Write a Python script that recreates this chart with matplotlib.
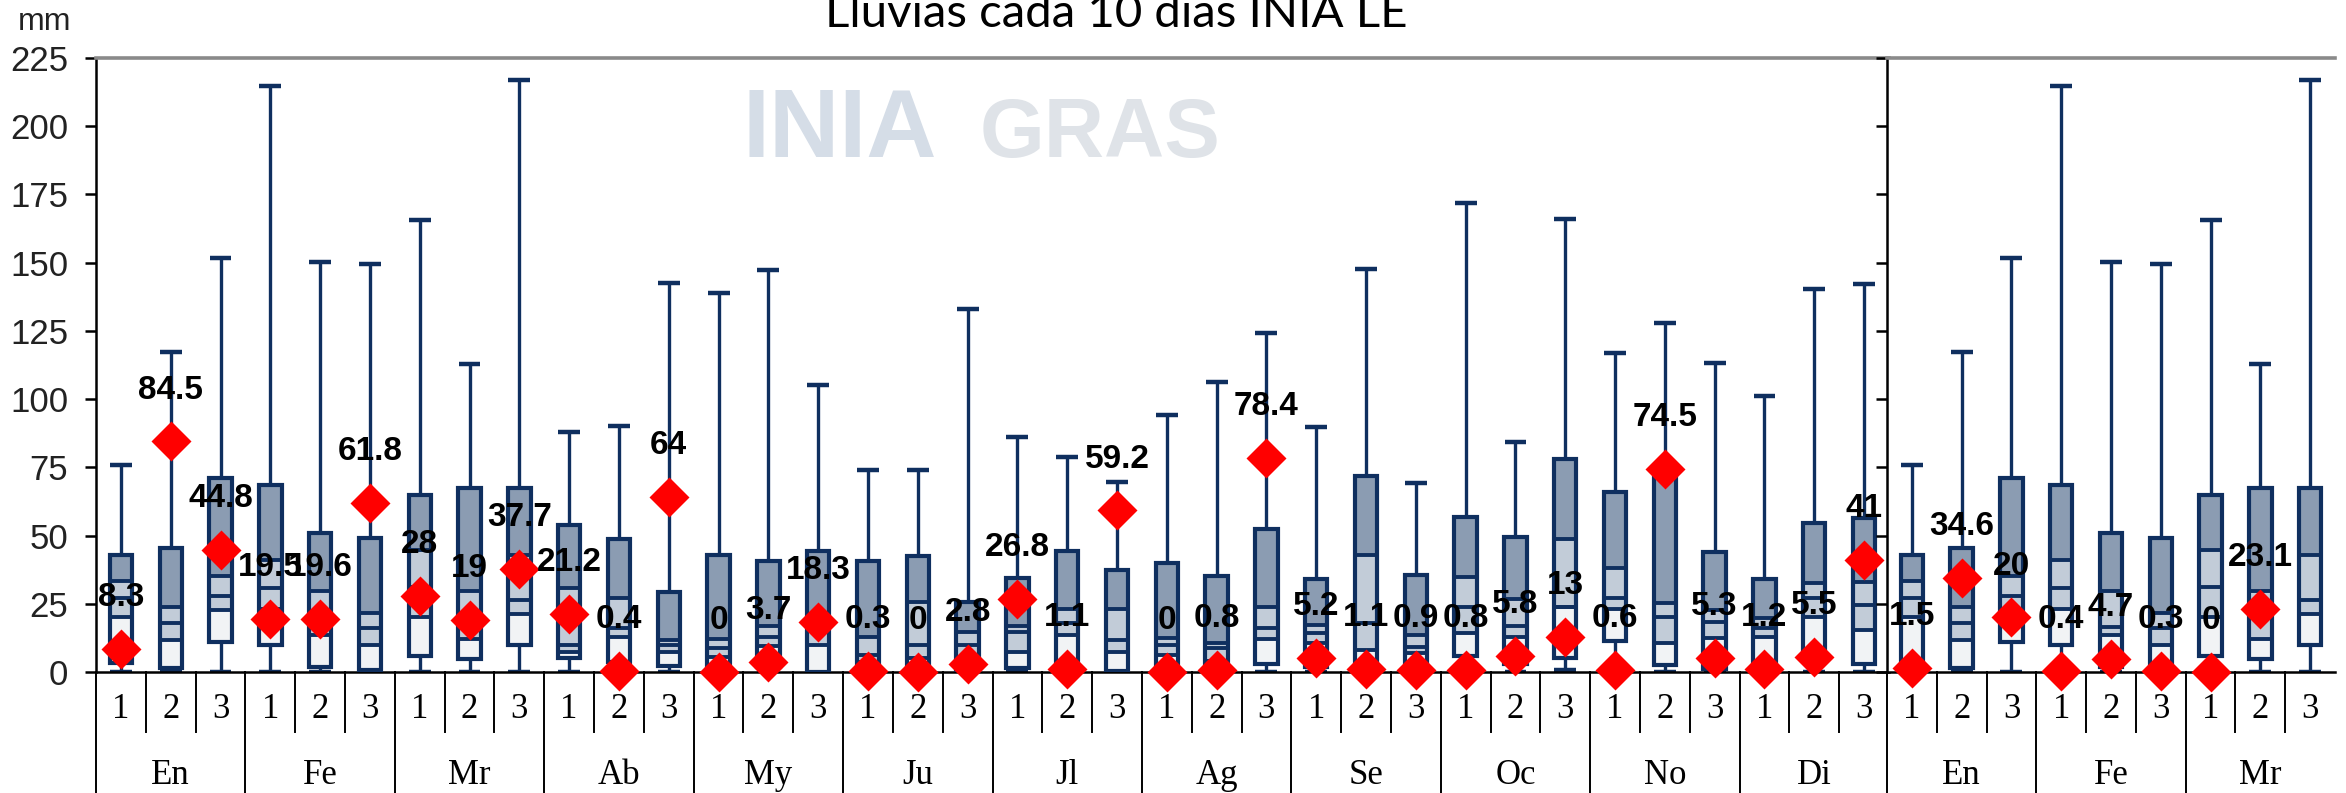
import numpy as np
import matplotlib
matplotlib.use('Agg')
import matplotlib.pyplot as plt
from matplotlib.transforms import blended_transform_factory

# Dekad climatology (mm) for En..Di
months = ['En', 'Fe', 'Mr', 'Ab', 'My', 'Ju', 'Jl', 'Ag', 'Se', 'Oc', 'No', 'Di']
months_next = ['En', 'Fe', 'Mr']
dekads = ['1', '2', '3']

whisk_min = [0, 0, 0, 0, 0, 0, 0, 0, 0, 0, 0, 0,
             0, 0, 0, 0, 0, 0, 0, 0, 0, 0, 0, 0,
             0, 0, 0, 0, 0, 0.7, 0, 0, 0, 0, 0, 0]
whisk_max = [76, 117.3, 151.7, 214.8, 150.3, 149.4, 165.7, 112.8, 216.9,
             87.8, 90, 142.6, 139, 147.2, 105.1, 74.2, 74.2, 133.2,
             86, 78.9, 69.7, 94.3, 106.1, 124.3, 89.8, 147.7, 69.3,
             172, 84.2, 166, 117, 128, 113.3, 101, 140.5, 142]
box_lo = [3.2, 1.5, 11, 9.8, 1.7, 0.7, 6, 4.7, 9.8,
          5, 3.8, 2.2, 0.2, 2, 0.1, 0.3, 0.1, 0.7,
          1.3, 0.8, 0.2, 0.1, 0.3, 2.8, 2, 0.7, 0.7,
          5.9, 3, 5, 11.5, 2.5, 1, 1.5, 6, 2.8]
line_a = [20, 11.7, 22.7, 23, 13.5, 9.9, 20, 12.2, 21.2,
          7.4, 13, 7.4, 5.6, 9.5, 9.9, 3.5, 5, 5,
          7.4, 13.6, 7.4, 6.2, 4, 12, 10.5, 8.1, 6.8,
          14.3, 13, 23.9, 23, 10.5, 12.3, 12.9, 20.3, 15.5]
line_m = [27, 17.8, 27.8, 30.7, 16.5, 16, 31, 20, 26.4,
          9.9, 16, 9.9, 8.7, 13, 15, 6.2, 9.9, 9.9,
          14.8, 17.8, 11.7, 9.9, 8.7, 16.3, 14.3, 17.8, 9.3,
          23.8, 17, 23.9, 27, 20.2, 18.2, 16, 27, 24.5]
line_b = [33.5, 24, 35, 41, 29.6, 21.5, 44.7, 29.6, 43,
          30.6, 27.3, 11.7, 12, 17, 20, 13, 25.6, 14.5,
          17, 23, 23.1, 12.3, 10.5, 23.7, 17.2, 43, 13.6,
          34.7, 26.8, 48.7, 38.2, 25.3, 22.7, 19.7, 32.5, 33]
box_hi = [42.8, 45.3, 71, 68.7, 51, 49, 65, 67.3, 67.3,
          54, 48.6, 29.4, 42.8, 40.5, 44.2, 40.6, 42.5, 25.8,
          34.5, 44.2, 37.5, 39.8, 35, 52.3, 34, 72, 35.4,
          56.8, 49.5, 78, 66, 72, 44, 34, 54.6, 56.5]

# Observed rain of the season (red diamonds)
obs_year = [8.3, 84.5, 44.8, 19.5, 19.6, 61.8, 28, 19, 37.7,
            21.2, 0.4, 64, 0, 3.7, 18.3, 0.3, 0, 2.8,
            26.8, 1.1, 59.2, 0, 0.8, 78.4, 5.2, 1.1, 0.9,
            0.8, 5.8, 13, 0.6, 74.5, 5.3, 1.2, 5.5, 41]
obs_next = [1.5, 34.6, 20, 0.4, 4.7, 0.3, 0, 23.1, None]

NAVY = '#0f2f5f'
DARK = '#8b9cb2'
LIGHT = '#c2ccd8'
PALE = '#f1f3f5'

W, H = 2346, 793
fig = plt.figure(figsize=(W / 100, H / 100), dpi=100)

x0, y0 = 96, 672
ytop = 58
ax_h = (y0 - ytop) / H
ax1 = fig.add_axes([x0 / W, (H - y0) / H, (1889 - x0) / W, ax_h])
ax2 = fig.add_axes([1887 / W, (H - y0) / H, (2335 - 1887) / W, ax_h])
ax2.set_zorder(2)


def draw_panel(ax, n, obs, month_names):
    x = np.arange(n)
    mn = np.array(whisk_min[:n])
    mx = np.array(whisk_max[:n])
    lo = np.array(box_lo[:n])
    a = np.array(line_a[:n])
    m = np.array(line_m[:n])
    b = np.array(line_b[:n])
    hi = np.array(box_hi[:n])
    bw = 0.45

    ax.vlines(x, mn, mx, color=NAVY, lw=2.4, zorder=2)
    ax.hlines(mx, x - 0.22, x + 0.22, color=NAVY, lw=3.2, zorder=2)
    ax.hlines(mn, x - 0.22, x + 0.22, color=NAVY, lw=3.2, zorder=2)
    ax.bar(x, a - lo, bottom=lo, width=bw, color=PALE, zorder=3)
    ax.bar(x, b - a, bottom=a, width=bw, color=LIGHT, zorder=3)
    ax.bar(x, hi - b, bottom=b, width=bw, color=DARK, zorder=3)
    inner = np.concatenate([a, m, b])
    xs = np.tile(x, 3)
    ax.hlines(inner, xs - bw / 2, xs + bw / 2, color=NAVY, lw=2.8, zorder=4)
    ax.bar(x, hi - lo, bottom=lo, width=bw, fill=False, edgecolor=NAVY,
           lw=3, zorder=4)

    xo = [i for i, v in enumerate(obs) if v is not None]
    yo = [v for v in obs if v is not None]
    ax.plot(xo, yo, 'D', ms=20, color='#ff0000', mec='none', zorder=6,
            clip_on=False)
    for xi, yi in zip(xo, yo):
        ax.annotate(f'{yi:g}', (xi, yi), xytext=(0, 37), textcoords='offset points',
                    ha='center', va='center', fontsize=24, fontweight='bold',
                    family='Liberation Sans', color='black', zorder=7)

    ax.set_xlim(-0.5, n - 0.5)
    ax.set_ylim(0, 225)
    ax.set_yticks(np.arange(0, 226, 25))
    ax.set_xticks([])
    ax.tick_params(axis='y', direction='out', length=8, width=1.8, pad=12,
                   labelsize=25, labelcolor='#222222')
    for lab in ax.get_yticklabels():
        lab.set_family('Liberation Sans')
    ax.spines['right'].set_visible(False)
    ax.spines['top'].set_color('#8a8a8a')
    ax.spines['top'].set_linewidth(2.6)
    ax.spines['left'].set_linewidth(1.8)
    ax.spines['bottom'].set_linewidth(1.8)

    # category axis below: dekads and months
    tr = blended_transform_factory(ax.transData, ax.transAxes)
    short_y = -60 / (y0 - ytop)
    long_y = -(H - y0) / (y0 - ytop)
    for k in range(n):
        ax.text(k, -37 / (y0 - ytop), dekads[k % 3], transform=tr, ha='center',
                va='center', fontsize=25, family='Liberation Serif')
    for j, name in enumerate(month_names):
        ax.text(3 * j + 1, -104 / (y0 - ytop), name, transform=tr, ha='center',
                va='center', fontsize=25, family='Liberation Serif')
    for k in range(n):
        bx = k - 0.5
        yb = long_y if k % 3 == 0 else short_y
        ax.plot([bx, bx], [0, yb], transform=tr, color='black', lw=1.4,
                clip_on=False)


draw_panel(ax1, 36, obs_year, months)
draw_panel(ax2, 9, obs_next, months_next)
ax2.tick_params(labelleft=False)
ax2.patch.set_facecolor('white')

# title, partly cut at the top edge as in the source picture
title = fig.text(1116 / W, 1 - 27 / H, 'Lluvias cada 10 días INIA LE', ha='center',
                 va='baseline', fontsize=32, family='Lato', color='black')
fig.canvas.draw()
tw = title.get_window_extent().width
title.set_fontsize(32 * 583 / tw)

fig.text(45 / W, 1 - 30 / H, 'mm', ha='center', va='baseline', fontsize=23,
         family='Liberation Sans', color='#222222')

# faint logo watermark
fig.text(840 / W, 1 - 132 / H, 'INIA', ha='center', va='center', fontsize=70,
         fontweight='bold', family='Liberation Sans', color='#d5dde7', zorder=0)
fig.text(1100 / W, 1 - 135 / H, 'GRAS', ha='center', va='center', fontsize=60,
         fontweight='bold', family='Liberation Sans', color='#dfe3e8', zorder=0)

fig.savefig('out.png', dpi=100)
